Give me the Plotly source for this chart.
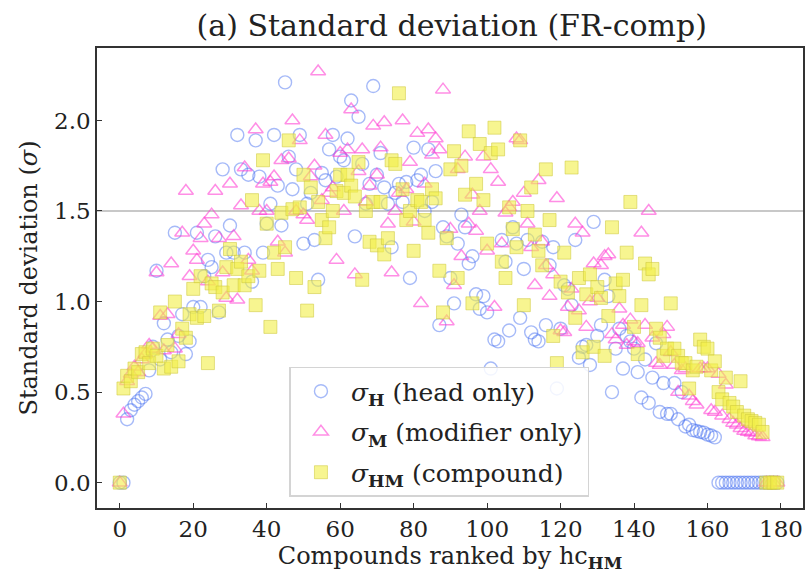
import plotly.graph_objects as go

# Per-compound standard deviations, ordered by hc_HM rank (0..179)
rank = list(range(180))

sigma_head = [
    0.00, 0.00, 0.35, 0.40, 0.43, 0.45, 0.47, 0.49, 0.62, 0.75,
    1.17, 0.68, 0.88, 0.79, 0.72, 1.38, 0.81, 0.93, 0.71, 0.78,
    0.97, 1.38, 0.97, 1.14, 1.23, 1.19, 1.36, 0.94, 1.73, 1.27,
    1.42, 1.27, 1.92, 1.73, 1.27, 1.70, 1.11, 1.89, 1.69, 1.27,
    1.43, 1.54, 1.92, 1.64, 1.42, 2.21, 1.80, 1.62, 1.73, 1.92,
    1.32, 1.54, 1.60, 1.34, 1.12, 1.71, 1.67, 1.84, 1.92, 1.69,
    1.80, 1.78, 1.90, 2.11, 1.36, 2.02, 1.76, 1.54, 1.65, 2.19,
    1.70, 1.82, 1.63, 1.54, 1.30, 1.60, 1.65, 1.55, 1.66, 1.13,
    1.85, 1.67, 1.70, 1.50, 1.84, 1.55, 1.72, 0.87, 1.41, 1.36,
    1.13, 0.99, 1.32, 1.48, 1.41, 1.21, 1.25, 1.04, 0.96, 1.03,
    0.94, 0.63, 0.79, 0.78, 1.34, 1.22, 0.84, 1.41, 1.32, 0.91,
    1.18, 1.34, 0.83, 0.79, 0.78, 1.33, 0.87, 1.20, 1.30, 0.52,
    0.85, 1.09, 1.07, 0.98, 1.34, 0.69, 0.75, 0.76, 0.65, 1.44,
    0.81, 0.87, 1.12, 1.03, 0.50, 0.74, 0.85, 0.63, 0.81, 0.78,
    0.74, 0.61, 0.47, 0.68, 0.44, 0.58, 0.77, 0.39, 0.55, 0.38,
    0.38, 0.55, 0.35, 0.50, 0.31, 0.32, 0.29, 0.285, 0.28, 0.276,
    0.265, 0.26, 0.25, 0.00, 0.00, 0.00, 0.00, 0.00, 0.00, 0.00,
    0.00, 0.00, 0.00, 0.00, 0.00, 0.00, 0.00, 0.00, 0.00, 0.00,
]

sigma_modifier = [
    0.00, 0.38, 0.56, 0.60, 0.64, 0.61, 0.68, 0.71, 0.76, 0.74,
    1.16, 0.92, 0.73, 0.93, 1.21, 0.74, 0.82, 1.38, 1.61, 1.14,
    1.28, 1.23, 1.35, 1.43, 1.11, 1.48, 1.61, 1.35, 1.16, 1.02,
    1.65, 1.36, 1.01, 1.53, 1.74, 1.23, 1.17, 1.95, 1.50, 1.65,
    1.50, 1.66, 1.69, 1.33, 1.78, 1.27, 1.79, 2.00, 1.50, 1.89,
    1.48, 1.45, 1.69, 1.75, 2.27, 1.56, 1.92, 1.60, 1.63, 1.23,
    1.82, 1.50, 1.84, 2.06, 1.15, 1.72, 1.84, 1.55, 1.64, 1.97,
    1.70, 1.85, 1.99, 1.43, 1.16, 1.50, 1.60, 2.00, 1.62, 1.77,
    1.44, 1.93, 0.99, 1.65, 1.95, 1.81, 1.90, 1.84, 2.17, 0.89,
    1.40, 1.09, 1.73, 1.25, 1.80, 1.43, 1.59, 1.39, 1.50, 1.80,
    1.28, 1.73, 0.97, 1.66, 1.32, 1.49, 1.52, 1.55, 1.90, 1.89,
    1.60, 1.43, 1.30, 1.09, 1.67, 1.33, 1.20, 1.03, 1.15, 1.57,
    0.84, 0.83, 0.97, 1.07, 1.43, 0.95, 1.38, 0.86, 1.00, 1.21,
    1.02, 1.20, 1.25, 1.26, 0.82, 0.79, 0.96, 0.87, 0.76, 0.90,
    0.78, 0.77, 1.38, 0.87, 1.50, 0.80, 0.66, 0.65, 0.82, 0.86,
    0.72, 0.65, 0.50, 0.62, 0.63, 0.48, 0.45, 0.43, 0.63, 0.63,
    0.63, 0.40, 0.39, 0.60, 0.37, 0.54, 0.35, 0.33, 0.32, 0.30,
    0.285, 0.28, 0.275, 0.26, 0.255, 0.25, 0.00, 0.00, 0.00, 0.00,
]

sigma_compound = [
    0.00, 0.52, 0.59, 0.56, 0.63, 0.61, 0.71, 0.72, 0.66, 0.74,
    0.70, 0.94, 0.63, 0.76, 0.64, 1.00, 0.67, 0.85, 0.80, 0.93,
    1.07, 0.91, 1.14, 0.92, 0.66, 1.10, 1.08, 0.95, 1.05, 1.19,
    1.29, 1.09, 1.18, 1.22, 1.09, 1.14, 1.56, 0.98, 1.17, 1.78,
    1.43, 0.86, 1.27, 1.18, 1.49, 1.30, 1.89, 1.51, 1.13, 1.52,
    1.70, 0.95, 1.63, 1.08, 1.55, 1.45, 1.35, 1.41, 1.50, 1.61,
    1.70, 1.60, 1.70, 1.64, 1.58, 1.77, 1.12, 1.50, 1.33, 1.55,
    1.31, 1.55, 1.26, 1.35, 1.78, 1.76, 2.15, 1.62, 1.45, 1.50,
    1.28, 1.56, 1.55, 1.45, 1.38, 1.62, 1.57, 1.17, 0.94, 1.35,
    1.73, 1.83, 1.13, 1.75, 1.59, 1.94, 0.99, 1.65, 1.87, 1.56,
    1.32, 1.82, 1.96, 1.84, 1.22, 1.13, 1.52, 1.40, 1.30, 1.89,
    0.98, 1.50, 1.63, 1.37, 1.28, 1.20, 1.73, 1.45, 0.81, 0.66,
    1.11, 1.27, 1.05, 1.74, 0.91, 1.13, 0.72, 1.04, 1.15, 0.75,
    1.08, 1.02, 0.70, 0.92, 1.41, 1.10, 1.03, 1.12, 1.27, 1.55,
    0.86, 0.71, 0.98, 1.21, 1.15, 1.18, 0.85, 0.80, 0.70, 0.74,
    0.99, 0.74, 0.70, 0.66, 0.66, 0.52, 0.62, 0.64, 0.79, 0.75,
    0.74, 0.62, 0.67, 0.50, 0.46, 0.58, 0.44, 0.42, 0.39, 0.56,
    0.37, 0.35, 0.34, 0.33, 0.32, 0.28, 0.00, 0.00, 0.00, 0.00,
]

legend_names = [
    "<i>σ</i><sub><b>H</b></sub> (head only)",
    "<i>σ</i><sub><b>M</b></sub> (modifier only)",
    "<i>σ</i><sub><b>HM</b></sub> (compound)",
]

x_ticks = [0, 20, 40, 60, 80, 100, 120, 140, 160, 180]
y_ticks = [0.0, 0.5, 1.0, 1.5, 2.0]
reference_level = 1.5

SERIF = "DejaVu Serif"
INK = "#222222"

fig = go.Figure()

fig.add_trace(go.Scatter(
    x=rank, y=sigma_head, mode="markers", name=legend_names[0],
    legendgroup="h",
    marker=dict(symbol="circle-open", size=13,
                color="rgba(70,110,240,0.48)",
                line=dict(width=1.4, color="rgba(70,110,240,0.48)")),
))
fig.add_trace(go.Scatter(
    x=rank, y=sigma_modifier, mode="markers", name=legend_names[1],
    legendgroup="m",
    marker=dict(symbol="triangle-up-open", size=13,
                color="rgba(255,60,210,0.58)",
                line=dict(width=1.5, color="rgba(255,60,210,0.58)")),
))
fig.add_trace(go.Scatter(
    x=rank, y=sigma_compound, mode="markers", name=legend_names[2],
    legendgroup="hm",
    marker=dict(symbol="square", size=13,
                color="rgba(242,238,70,0.6)",
                line=dict(width=1, color="rgba(205,200,60,0.55)")),
))

fig.add_hline(y=reference_level, line=dict(color="#c8c8c8", width=2),
              layer="below")

axis_common = dict(
    showline=True, linecolor="#333333", linewidth=1.5, mirror=True,
    ticks="inside", ticklen=5, tickwidth=1.3, tickcolor="#333333",
    showgrid=False, zeroline=False,
    tickfont=dict(family=SERIF, size=23, color=INK),
)

fig.update_xaxes(
    range=[-6.2, 186], tickvals=x_ticks,
    title=dict(text="Compounds ranked by hc<sub><b>HM</b></sub>",
               font=dict(family=SERIF, size=24, color=INK), standoff=4),
    **axis_common,
)
fig.update_yaxes(
    range=[-0.14, 2.40], tickvals=y_ticks, tickformat=".1f",
    title=dict(text="Standard deviation (<i>σ</i>)",
               font=dict(family=SERIF, size=24, color=INK), standoff=10),
    **axis_common,
)

fig.update_layout(
    width=811, height=575,
    margin=dict(l=97, r=6, t=48, b=67),
    paper_bgcolor="white", plot_bgcolor="white",
    title=dict(text="(a) Standard deviation (FR-comp)", x=0.557, xanchor="center",
               y=0.955, yanchor="middle",
               font=dict(family=SERIF, size=30, color=INK)),
    legend=dict(x=0.2726, y=0.024, xanchor="left", yanchor="bottom",
                bgcolor="rgba(255,255,255,0.85)", bordercolor="#d4d4d4",
                borderwidth=1.5, tracegroupgap=5,
                font=dict(family=SERIF, size=25, color=INK),
                itemwidth=50),
    showlegend=True,
)

fig.write_html("out.html")
